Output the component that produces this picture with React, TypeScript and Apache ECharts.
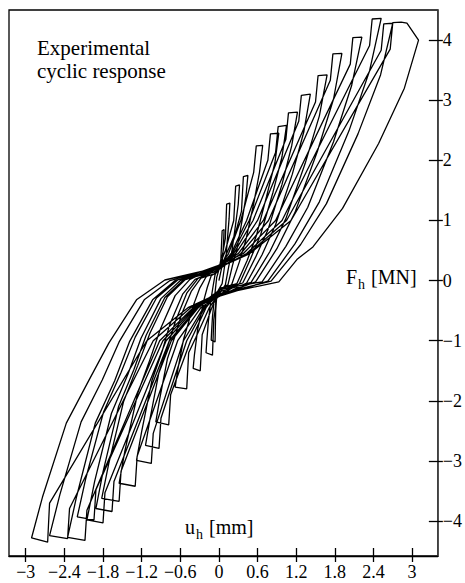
import React, { useEffect, useRef } from "react";
import * as echarts from "echarts";

// displacement u_h [mm], force F_h [MN] — hysteresis cycles
const cycle1 = [[0,0],[0.04,0.2],[0.064,0.48],[0.074,0.68],[0.08,0.85],[0.05,0.83],[0.03,0.35],[0.0,0.18],[-0.035,0.05],[-0.07,-0.3],[-0.1,-0.6],[-0.113,-0.83],[-0.12,-0.99],[-0.06,-1.02],[-0.05,-0.5],[-0.03,-0.2]];
const cycle2 = [[0.05,-0.05],[0.08,0.18],[0.11,0.39],[0.136,0.74],[0.158,1.03],[0.17,1.29],[0.12,1.27],[0.1,0.7],[0.05,0.4],[0.06,0.3],[-0.06,0.1],[-0.09,-0.09],[-0.12,-0.29],[-0.14,-0.47],[-0.163,-0.67],[-0.188,-1.0],[-0.2,-1.2],[-0.1,-1.24],[-0.08,-0.65],[-0.05,-0.42],[-0.05,-0.3]];
const cycle3 = [[0.1,-0.07],[0.15,0.22],[0.2,0.48],[0.256,0.91],[0.3,1.27],[0.32,1.59],[0.26,1.57],[0.23,1.0],[0.1,0.5],[-0.03,0.14],[-0.12,0.08],[-0.18,-0.11],[-0.24,-0.35],[-0.28,-0.57],[-0.33,-0.81],[-0.38,-1.23],[-0.4,-1.46],[-0.29,-1.5],[-0.26,-0.9],[-0.11,-0.45],[0.02,-0.13]];
const cycle4 = [[0.14,-0.07],[0.21,0.25],[0.28,0.52],[0.36,1.0],[0.42,1.4],[0.45,1.75],[0.38,1.73],[0.35,1.15],[0.26,0.8],[0.12,0.45],[0.07,0.32],[-0.2,0.06],[-0.3,-0.13],[-0.4,-0.42],[-0.47,-0.69],[-0.55,-0.98],[-0.64,-1.49],[-0.68,-1.77],[-0.5,-1.8],[-0.47,-1.2],[-0.36,-0.95],[-0.15,-0.45],[-0.07,-0.33]];
const cycle5 = [[0.2,-0.06],[0.32,0.32],[0.42,0.68],[0.54,1.28],[0.63,1.8],[0.68,2.25],[0.58,2.24],[0.54,1.8],[0.34,1.0],[0.15,0.45],[-0.05,0.12],[-0.28,0.04],[-0.43,-0.18],[-0.58,-0.56],[-0.68,-0.92],[-0.8,-1.3],[-0.92,-1.97],[-0.98,-2.35],[-0.78,-2.4],[-0.75,-1.9],[-0.44,-1.0],[-0.2,-0.45],[0.04,-0.12]];
const cycle6 = [[0.28,-0.05],[0.44,0.34],[0.58,0.74],[0.74,1.4],[0.87,1.96],[0.93,2.45],[0.8,2.44],[0.76,2.0],[0.43,1.0],[0.19,0.45],[0.05,0.27],[-0.33,0.03],[-0.5,-0.21],[-0.67,-0.66],[-0.79,-1.07],[-0.93,-1.52],[-1.07,-2.3],[-1.14,-2.74],[-0.93,-2.79],[-0.9,-2.29],[-0.5,-1.0],[-0.22,-0.45],[-0.06,-0.29]];
const cycle7 = [[0.32,-0.05],[0.49,0.36],[0.65,0.77],[0.84,1.47],[0.98,2.06],[1.05,2.58],[0.92,2.56],[0.88,2.13],[0.47,1.0],[0.21,0.45],[-0.02,0.17],[-0.37,0.02],[-0.56,-0.22],[-0.76,-0.72],[-0.88,-1.17],[-1.04,-1.66],[-1.2,-2.51],[-1.28,-2.99],[-1.05,-3.04],[-1.02,-2.54],[-0.55,-1.0],[-0.24,-0.45],[0.01,-0.16]];
const cycle8 = [[0.37,-0.04],[0.57,0.39],[0.76,0.84],[0.98,1.6],[1.13,2.24],[1.22,2.8],[1.08,2.79],[1.04,2.35],[0.53,1.0],[0.23,0.45],[0.08,0.3],[-0.45,0.02],[-0.68,-0.25],[-0.91,-0.81],[-1.07,-1.31],[-1.26,-1.87],[-1.46,-2.83],[-1.55,-3.37],[-1.3,-3.42],[-1.27,-2.92],[-0.64,-1.0],[-0.28,-0.45],[-0.08,-0.31]];
const cycle9 = [[0.43,-0.04],[0.67,0.43],[0.88,0.93],[1.14,1.77],[1.32,2.48],[1.42,3.1],[1.28,3.08],[1.24,2.65],[0.6,1.0],[0.26,0.45],[0.0,0.2],[-0.53,0.01],[-0.8,-0.27],[-1.07,-0.87],[-1.26,-1.41],[-1.48,-2.01],[-1.71,-3.04],[-1.82,-3.62],[-1.55,-3.67],[-1.52,-3.17],[-0.74,-1.0],[-0.32,-0.45],[-0.01,-0.19]];
const cycle10 = [[0.5,-0.03],[0.79,0.48],[1.04,1.03],[1.34,1.95],[1.56,2.74],[1.68,3.42],[1.54,3.41],[1.5,2.97],[0.69,1.0],[0.3,0.45],[0.04,0.26],[-0.55,0.01],[-0.84,-0.28],[-1.13,-0.91],[-1.32,-1.48],[-1.56,-2.1],[-1.8,-3.18],[-1.91,-3.79],[-1.66,-3.84],[-1.63,-3.34],[-0.77,-1.0],[-0.34,-0.45],[-0.04,-0.26]];
const cycle11 = [[0.57,-0.02],[0.9,0.53],[1.18,1.13],[1.53,2.15],[1.78,3.02],[1.91,3.78],[1.77,3.77],[1.73,3.33],[0.77,1.0],[0.34,0.45],[-0.04,0.15],[-0.59,0.01],[-0.9,-0.3],[-1.21,-0.96],[-1.41,-1.55],[-1.67,-2.21],[-1.93,-3.34],[-2.05,-3.98],[-1.8,-4.03],[-1.77,-3.53],[-0.82,-1.0],[-0.36,-0.45],[0.03,-0.14]];
const cycle12 = [[0.67,-0.02],[1.04,0.57],[1.38,1.22],[1.78,2.31],[2.06,3.24],[2.22,4.05],[2.08,4.04],[2.04,3.6],[0.88,1.0],[0.38,0.45],[0.06,0.28],[-0.64,0.01],[-0.97,-0.29],[-1.3,-0.94],[-1.52,-1.53],[-1.79,-2.18],[-2.07,-3.3],[-2.2,-3.93],[-1.94,-3.98],[-1.91,-3.48],[-0.87,-1.0],[-0.38,-0.45],[-0.05,-0.28]];
const cycle13 = [[0.76,-0.01],[1.18,0.61],[1.56,1.31],[2.02,2.49],[2.34,3.49],[2.52,4.36],[2.38,4.35],[2.34,3.91],[0.98,1.0],[0.43,0.45],[0.01,0.21],[-0.68,0.0],[-1.03,-0.32],[-1.39,-1.02],[-1.62,-1.67],[-1.92,-2.37],[-2.21,-3.59],[-2.35,-4.27],[-2.08,-4.32],[-2.05,-3.82],[-0.92,-1.0],[-0.4,-0.45],[-0.01,-0.22]];
const cycle14 = [[0.81,-0.01],[1.27,0.6],[1.67,1.28],[2.16,2.44],[2.51,3.42],[2.7,4.28],[2.56,4.27],[2.52,3.83],[1.05,1.0],[0.46,0.45],[0.05,0.25],[-0.76,0.0],[-1.16,-0.32],[-1.55,-1.02],[-1.81,-1.65],[-2.14,-2.35],[-2.47,-3.56],[-2.63,-4.24],[-2.35,-4.29],[-2.32,-3.79],[-1.02,-1.0],[-0.44,-0.45],[-0.04,-0.24]];
const cycle15 = [[0.93,-0.02],[1.22,0.36],[1.46,0.56],[1.92,1.2],[2.48,2.28],[2.88,3.2],[3.1,4.0],[2.92,4.28],[2.83,4.3],[2.7,4.29],[2.66,3.85],[1.12,1.0],[0.48,0.45],[0.03,0.23],[-0.84,0.01],[-1.28,-0.32],[-1.71,-1.04],[-2.02,-1.66],[-2.37,-2.37],[-2.74,-3.6],[-2.91,-4.28],[-2.66,-4.35],[-2.63,-3.7],[-1.12,-1.0],[-0.48,-0.45],[-0.02,-0.22]];

const cycles = [cycle1, cycle2, cycle3, cycle4, cycle5, cycle6, cycle7, cycle8, cycle9, cycle10, cycle11, cycle12, cycle13, cycle14, cycle15];

const xTicks = [-3, -2.4, -1.8, -1.2, -0.6, 0, 0.6, 1.2, 1.8, 2.4, 3];
const yTicks = [-4, -3, -2, -1, 0, 1, 2, 3, 4];
const xRange = [-3.26, 3.4];
const yRange = [-4.58, 4.5];

const SERIF = "Liberation Serif";
const fmt = (v: number) => (v < 0 ? "\u2212" : "") + String(Math.abs(v));

export default function App() {
  const ref = useRef<HTMLDivElement>(null);
  useEffect(() => {
    if (!ref.current) return;
    const chart = echarts.init(ref.current, null, { renderer: "svg" });
    const path: number[][] = [];
    cycles.forEach((c) => c.forEach((p) => path.push(p)));
    const tickStyle = { color: "#000", width: 1.3 };
    const txt = (text: string, left: number, top: number, size: number) => ({
      type: "text", left, top,
      style: { text, fontFamily: SERIF, fontSize: size, fill: "#000" },
    });
    chart.setOption({
      animation: false,
      backgroundColor: "#fff",
      grid: {
        left: 9, right: 23, top: 10, bottom: 27,
        show: true, borderColor: "#000", borderWidth: 1.3,
      },
      xAxis: [
        {
          type: "value", min: xRange[0], max: xRange[1], position: "bottom",
          axisLine: { show: true, onZero: false, lineStyle: { color: "#000", width: 1.3 } },
          axisTick: { show: true, inside: true, length: 8, customValues: xTicks, lineStyle: tickStyle },
          axisLabel: { show: true, customValues: xTicks, formatter: fmt, margin: 7, fontFamily: SERIF, fontSize: 18, color: "#000" },
          splitLine: { show: false },
        },
        {
          type: "value", min: xRange[0], max: xRange[1], position: "bottom",
          axisLine: { show: false, onZero: false },
          axisTick: { show: true, inside: false, length: 6, customValues: xTicks, lineStyle: tickStyle },
          axisLabel: { show: false },
          splitLine: { show: false },
        },
      ],
      yAxis: [
        {
          type: "value", min: yRange[0], max: yRange[1], position: "right",
          axisLine: { show: true, onZero: false, lineStyle: { color: "#444", width: 1.6 } },
          axisTick: { show: true, inside: true, length: 9, customValues: yTicks, lineStyle: tickStyle },
          axisLabel: { show: true, customValues: yTicks, formatter: fmt, margin: 5, fontFamily: SERIF, fontSize: 18, color: "#000" },
          splitLine: { show: false },
        },
        {
          type: "value", min: yRange[0], max: yRange[1], position: "right",
          axisLine: { show: false, onZero: false },
          axisTick: { show: true, inside: false, length: 5, customValues: yTicks, lineStyle: tickStyle },
          axisLabel: { show: false },
          splitLine: { show: false },
        },
      ],
      series: [
        {
          type: "line",
          xAxisIndex: 0, yAxisIndex: 0,
          data: path,
          showSymbol: false,
          symbol: "none",
          smooth: false,
          lineStyle: { color: "#000", width: 1.3 },
          silent: true,
        },
      ],
      graphic: [
        txt("Experimental", 37, 37, 21),
        txt("cyclic response", 37, 60, 21),
        txt("F", 346, 267, 20),
        txt("h", 358, 277, 14),
        txt("[MN]", 371, 267, 20),
        txt("u", 185, 517, 20),
        txt("h", 196, 527, 14),
        txt("[mm]", 209, 517, 20),
      ],
    });
    return () => chart.dispose();
  }, []);
  return <div ref={ref} style={{ position: "fixed", left: 0, top: 0, width: 465, height: 583 }} />;
}
